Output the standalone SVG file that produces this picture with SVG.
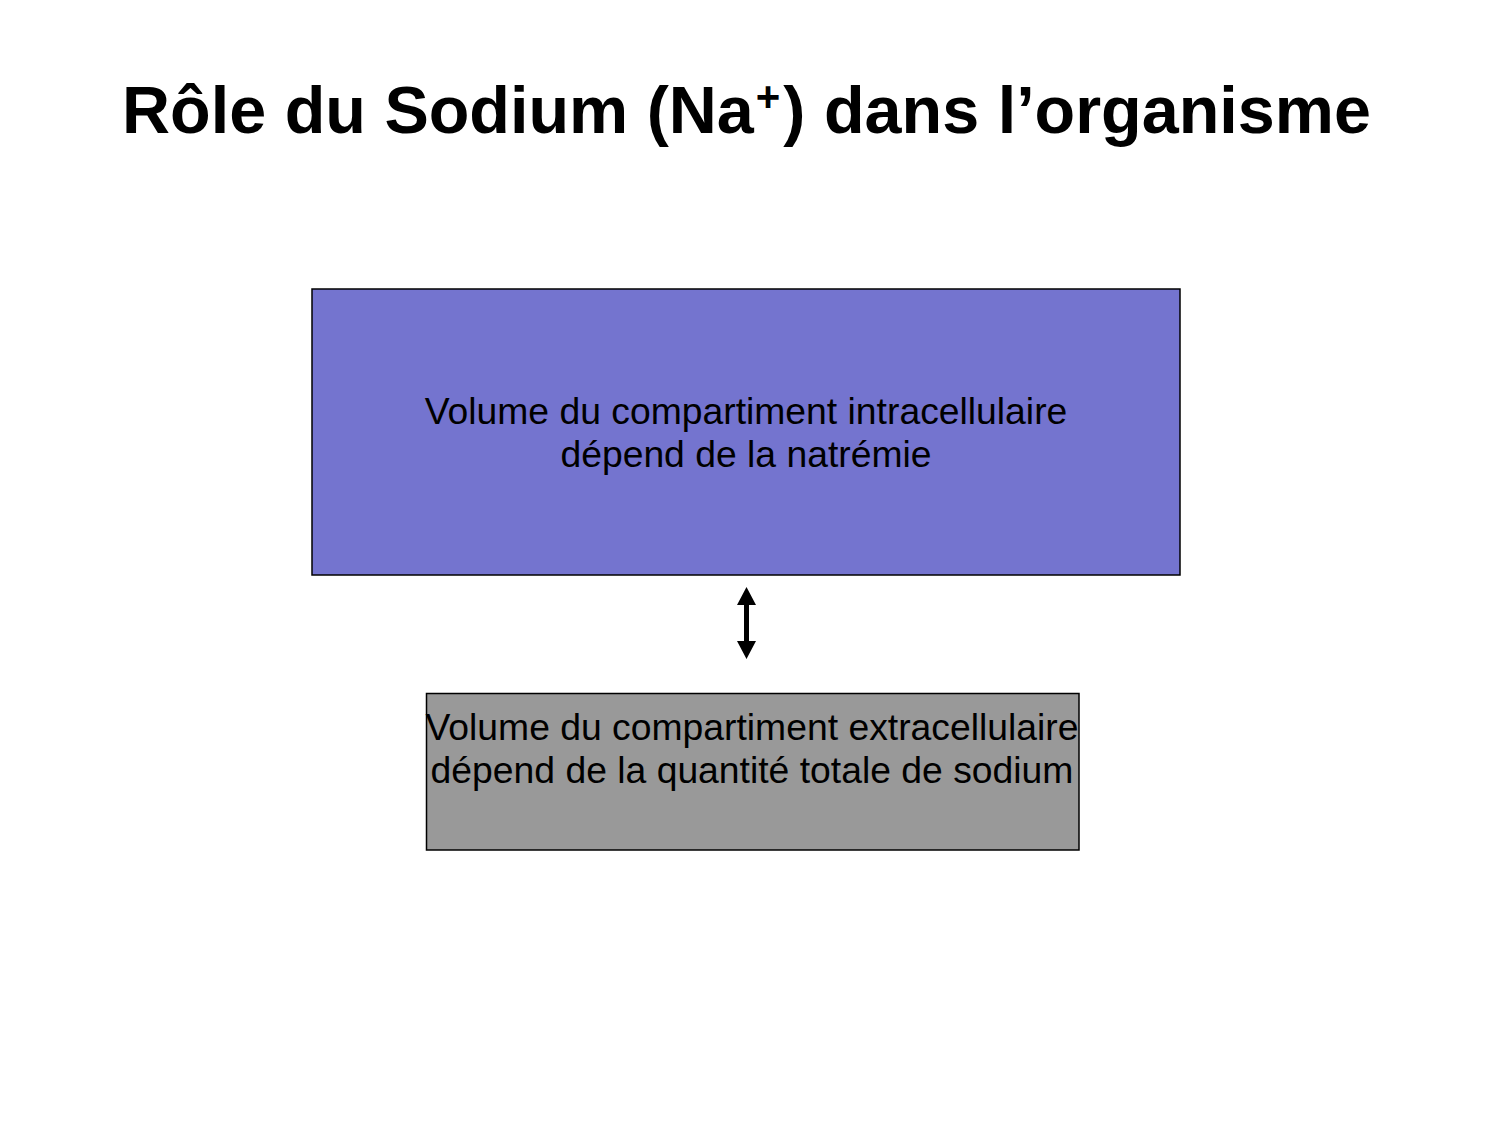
<svg xmlns="http://www.w3.org/2000/svg" width="1500" height="1125" viewBox="0 0 1500 1125">
  <style>
    .title { font-family: "Liberation Sans", Arial, sans-serif; font-weight: bold; font-size: 66.5px; fill: #000; }
    .label { font-family: "Liberation Sans", Arial, sans-serif; font-size: 37.3px; fill: #000; }
    .box { stroke: #000; stroke-width: 1.5; }
  </style>
  <rect width="1500" height="1125" fill="#fff"/>
  <text class="title" x="746.5" y="133" text-anchor="middle">Rôle du Sodium (Na<tspan font-size="42" dx="2" dy="-22">+</tspan><tspan dx="3" dy="22">) dans l’organisme</tspan></text>
  <g id="intracellulaire">
    <rect class="box" x="312" y="289" width="868" height="286" fill="#7474CF"/>
    <text class="label" x="746" y="424" text-anchor="middle">Volume du compartiment intracellulaire</text>
    <text class="label" x="746" y="467" text-anchor="middle">dépend de la natrémie</text>
  </g>
  <g id="extracellulaire">
    <rect class="box" x="426.5" y="693.5" width="652.5" height="156.5" fill="#999999"/>
    <text class="label" x="752" y="740" text-anchor="middle">Volume du compartiment extracellulaire</text>
    <text class="label" x="752" y="783" text-anchor="middle">dépend de la quantité totale de sodium</text>
  </g>
  <g id="connectors">
    <line x1="746.5" y1="605" x2="746.5" y2="641" stroke="#000" stroke-width="5"/>
    <path d="M746.5,587 L756,605 L737,605 Z M746.5,659 L756,641 L737,641 Z" fill="#000"/>
  </g>
</svg>
